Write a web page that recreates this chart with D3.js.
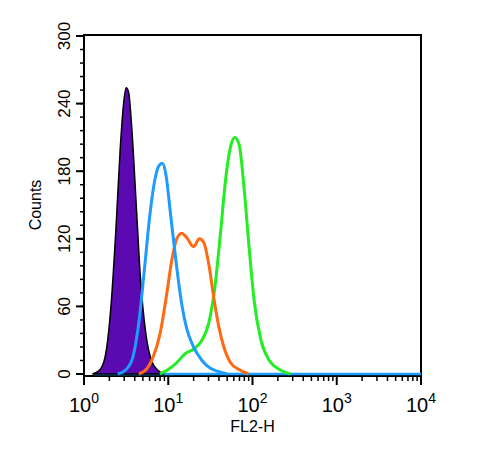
<!DOCTYPE html>
<html><head><meta charset="utf-8">
<script src="https://cdn.jsdelivr.net/npm/d3@7"></script>
<style>body{margin:0;background:#fff}</style>
</head><body>
<svg width="497" height="466"></svg>
<script>
// x in log10 units, y counts
const purple = [[0.10,0],[0.18,3],[0.25,15],[0.32,60],[0.38,130],[0.43,200],[0.47,240],[0.50,254],[0.53,250],[0.57,215],[0.62,150],[0.67,85],[0.73,38],[0.80,12],[0.88,3],[0.95,0]];
const blue = [[0.40,0],[0.50,4],[0.58,15],[0.65,45],[0.72,95],[0.78,140],[0.84,172],[0.89,185],[0.93,187],[0.97,178],[1.03,140],[1.10,95],[1.16,62],[1.22,40],[1.30,24],[1.40,12],[1.50,5],[1.60,2],[1.70,0]];
const orange = [[0.65,0],[0.75,5],[0.82,15],[0.90,35],[0.98,70],[1.04,100],[1.10,120],[1.16,125],[1.22,121],[1.30,113],[1.37,120],[1.42,117],[1.48,98],[1.54,68],[1.60,42],[1.66,24],[1.74,10],[1.84,4],[1.95,0]];
const green = [[0.90,0],[1.00,4],[1.10,10],[1.20,18],[1.30,22],[1.40,30],[1.48,45],[1.55,75],[1.62,125],[1.68,172],[1.74,202],[1.79,210],[1.84,204],[1.90,165],[1.96,112],[2.02,65],[2.10,30],[2.20,12],[2.32,4],[2.45,0]];
const yTicks = [0, 60, 120, 180, 240, 300];
const xDecades = [0, 1, 2, 3, 4];

const svg = d3.select("svg");
const mLeft = 84, mRight = 421, mTop = 36, mBottom = 374;
const x = d3.scaleLinear().domain([0, 4]).range([mLeft, mRight]);
const y = d3.scaleLinear().domain([0, 300]).range([mBottom, mTop]);

// frame
svg.append("rect").attr("x", mLeft).attr("y", mTop - 1).attr("width", mRight - mLeft).attr("height", mBottom - mTop + 3)
  .attr("fill", "none").attr("stroke", "#000").attr("stroke-width", 2);

const line = d3.line().x(d => x(d[0])).y(d => y(d[1])).curve(d3.curveMonotoneX);
const area = d3.area().x(d => x(d[0])).y0(y(0)).y1(d => y(d[1])).curve(d3.curveMonotoneX);

// baseline
svg.append("line").attr("x1", mLeft + 10).attr("x2", mRight).attr("y1", y(0)).attr("y2", y(0)).attr("stroke", "#1e9bff").attr("stroke-width", 2.5);

svg.append("path").attr("d", area(purple)).attr("fill", "#5a0ab0").attr("stroke", "#000").attr("stroke-width", 1.5);
svg.append("path").attr("d", line(green)).attr("fill", "none").attr("stroke", "#22ee22").attr("stroke-width", 3);
svg.append("path").attr("d", line(orange)).attr("fill", "none").attr("stroke", "#ff6a10").attr("stroke-width", 3);
svg.append("path").attr("d", line(blue)).attr("fill", "none").attr("stroke", "#1e9bff").attr("stroke-width", 3);

// y ticks
const yMinor = d3.range(0, 301, 12);
svg.selectAll(".ym").data(yMinor).join("line").attr("x1", mLeft - 4).attr("x2", mLeft).attr("y1", d => y(d)).attr("y2", d => y(d)).attr("stroke", "#000").attr("stroke-width", 1.5);
svg.selectAll(".yM").data(yTicks).join("line").attr("x1", mLeft - 8).attr("x2", mLeft).attr("y1", d => y(d)).attr("y2", d => y(d)).attr("stroke", "#000").attr("stroke-width", 2);
svg.selectAll(".yl").data(yTicks).join("text").attr("transform", d => `translate(${mLeft - 14},${y(d)}) rotate(-90)`)
  .attr("text-anchor", "middle").attr("font-family", "Liberation Sans, Arial").attr("font-size", 17).text(d => d);
svg.append("text").attr("transform", `translate(41,${(mTop + mBottom) / 2}) rotate(-90)`).attr("text-anchor", "middle")
  .attr("font-family", "Liberation Sans, Arial").attr("font-size", 16).text("Counts");

// x ticks
const xMinor = [];
xDecades.slice(0, -1).forEach(dec => { for (let m = 2; m < 10; m++) xMinor.push(dec + Math.log10(m)); });
svg.selectAll(".xm").data(xMinor).join("line").attr("x1", d => x(d)).attr("x2", d => x(d)).attr("y1", mBottom + 2).attr("y2", mBottom + 7).attr("stroke", "#000").attr("stroke-width", 1.5);
svg.selectAll(".xM").data(xDecades).join("line").attr("x1", d => x(d)).attr("x2", d => x(d)).attr("y1", mBottom + 2).attr("y2", mBottom + 11).attr("stroke", "#000").attr("stroke-width", 2);
const xl = svg.selectAll(".xl").data(xDecades).join("text").attr("x", d => x(d)).attr("y", 412)
  .attr("text-anchor", "middle").attr("font-family", "Liberation Sans, Arial").attr("font-size", 20);
xl.append("tspan").text("10");
xl.append("tspan").attr("dy", -9).attr("font-size", 14).text(d => d);
svg.append("text").attr("x", (mLeft + mRight) / 2).attr("y", 432).attr("text-anchor", "middle")
  .attr("font-family", "Liberation Sans, Arial").attr("font-size", 16).text("FL2-H");
</script>
</body></html>
